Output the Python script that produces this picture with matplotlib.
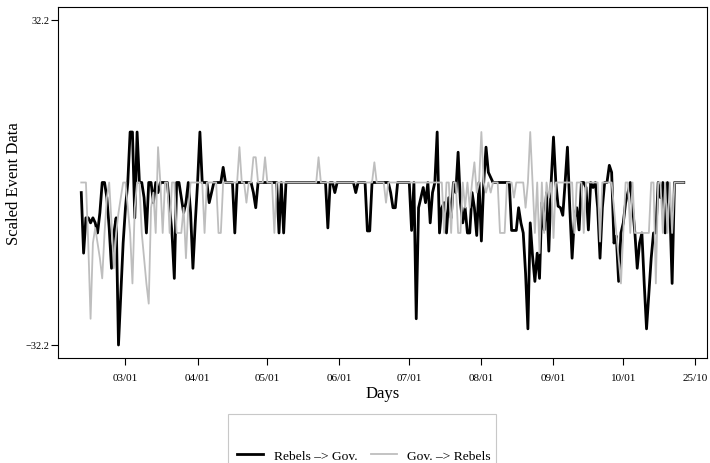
import numpy as np
import matplotlib
matplotlib.use("Agg")
import matplotlib.pyplot as plt
from matplotlib.patches import Rectangle

plt.rcParams['font.family'] = ['Liberation Serif', 'DejaVu Serif']

# daily values, 10 Feb -> 27 Oct
black_feb = [-2, -14, -7, -7, -8, -7, -8, -10, -6, 0, 0, -3, -9, -17, -10, -7, -32.2, -22, -12]
black_mar = [-5, 0, 10, 10, -7, 10, 0, 0, -3, -10, 0, 0, -4, 0, -2, 0, 0, 0, 0, -5,
             -10, -19, 0, 0, -3, -6, -4, 0, -6, -17, -8]
black_apr = [0, 10, 0, 0, 0, -4, -2, 0, 0, 0, 0, 3, 0, 0, 0, 0, -10, 0, 0, 0,
             0, 0, 0, 0, -2, -5, 0, 0, 0, 0]
black_may = [0, 0, 0, 0, 0, -10, 0, -10, 0, 0, 0, 0, 0, 0, 0, 0, 0, 0, 0, 0,
             0, 0, 0, 0, 0, 0, -9, 0, 0, -2, 0]
black_jun = [0, 0, 0, 0, 0, 0, 0, -2, 0, 0, 0, 0, -9.6, -9.6, 0, 0, 0, 0, 0, 0,
             0, 0, -2, -5, -5, 0, 0, 0, 0, 0]
black_jul = [0, -9.5, 0, -27, -5, -3, -1, -4, 0, -8, -2, 0, 10, -10, -5, -4, -10, -3, -7, 0,
             -2, 6, -4, -8, -5, -10, -10, -2, -5, -10.5, 0]
black_aug = [-11.6, 0, 7, 2, 1, 0, 0, 0, 0, 0, 0, 0, 0, -9.5, -9.5, -9.5, -5, -8, -10, -18,
             -29, -8, -14.6, -19.6, -14, -19, -4, -9.4, -2, -13.6, 0]
black_sep = [9, 0, -4.7, -5, -6.5, 0, 7, -5, -15, -7, -5, -9.4, 0, 0, -1, -9.4, 0, -1, 0, -5,
             -15, -5, 0, 0, 3.4, 2, -12, -10.6, -19.6, -10]
black_oct = [-8, -4, -2, 0, -5, -10, -17, -12, -10, -20, -29, -22, -15, -10, -10, 0, -3, 0, -10, 0,
             -5, -20, 0, 0, 0, 0, 0]

gray_feb = [0, 0, 0, -12, -27, -12, -9, -12, -15, -19, -10, -3, 0, -8, -17, -10, -6, -3, 0]
gray_mar = [0, -5, -10, -20, -5, 0, 0, -10, -15, -20, -24, -5, -2, -10, 7, 0, -10, 0, 0, -10,
            0, 0, -10, -10, -10, -5, -15, -5, 0, 0, 0]
gray_apr = [0, 0, 0, -10, 0, 0, 0, 0, 0, -10, -10, 0, 0, 0, 0, 0, 0, 0, 7, 0,
            0, -4, 0, 0, 5, 5, 0, 0, 0, 5]
gray_may = [0, 0, 0, -10, 0, 0, 0, 0, 0, 0, 0, 0, 0, 0, 0, 0, 0, 0, 0, 0,
            0, 0, 5, 0, 0, 0, 0, 0, 0, 0, 0]
gray_jun = [0, 0, 0, 0, 0, 0, 0, 0, 0, 0, 0, 0, 0, 0, 0, 4, 0, 0, 0, 0,
            -4, 0, 0, 0, 0, 0, 0, 0, 0, 0]
gray_jul = [0, 0, 0, 0, 0, 0, 0, 0, 0, 0, 0, 0, 0, 0, 0, -10, 0, 0, -10, 0,
            0, -10, -10, 0, -5, 0, -5, 0, 4, -2, 0]
gray_aug = [10, 0, -2, 0, -2, 0, 0, 0, -10, -10, -10, 0, 0, 0, -3, 0, 0, 0, 0, -5,
            0, 10, 0, -10, 0, -14, 0, -10, 0, -3, 0]
gray_sep = [-11, 0, 0, 0, 0, 0, 0, 0, 0, -10, 0, 0, 0, -10, 0, 0, 0, 0, 0, 0,
            -11.7, 0, 0, 0, 0, 0, -5, -10, -15, -20]
gray_oct = [-10, 0, 0, -10, 0, -10, -10, -10, -10, -10, -10, -10, 0, 0, -20, 0, 0, -10, 0, -10,
            0, -10, 0, 0, 0, 0, 0]

rebels_gov = (black_feb + black_mar + black_apr + black_may + black_jun
              + black_jul + black_aug + black_sep + black_oct)
gov_rebels = (gray_feb + gray_mar + gray_apr + gray_may + gray_jun
              + gray_jul + gray_aug + gray_sep + gray_oct)
days = np.arange(np.datetime64('2001-02-10'), np.datetime64('2001-10-28'))

tick_dates = np.array(['2001-03-01', '2001-04-01', '2001-05-01', '2001-06-01', '2001-07-01',
                       '2001-08-01', '2001-09-01', '2001-10-01', '2001-11-01'], dtype='datetime64[D]')
tick_labels = ['03/01', '04/01', '05/01', '06/01', '07/01', '08/01', '09/01', '10/01', '25/10']
y_lim = 32.2

fig = plt.figure(figsize=(7.1, 4.64), dpi=100)
ax = fig.add_axes([0.0817, 0.2263, 0.9141, 0.7565])

l1, = ax.plot(days, rebels_gov, color='black', lw=2.0, label='Rebels \u2013> Gov.')
l2, = ax.plot(days, gov_rebels, color='#bebebe', lw=1.3, label='Gov. \u2013> Rebels')

# R-style 4% padding around the data range
span = (days[-1] - days[0]) * 0.04
ax.set_xlim(days[0] - span, days[-1] + span)
ax.set_ylim(-y_lim * 1.08, y_lim * 1.08)
ax.set_yticks([-y_lim, y_lim])
ax.set_yticklabels(['\u221232.2', '32.2'])
ax.set_xticks(tick_dates)
ax.set_xticklabels(tick_labels)
ax.tick_params(axis='y', labelsize=7.5, length=5, width=0.8, pad=1)
ax.tick_params(axis='x', labelsize=8, length=5, width=0.8, pad=6)
for s in ax.spines.values():
    s.set_linewidth(0.8)

ax.set_xlabel('Days', fontsize=12, labelpad=2)
ax.set_ylabel('Scaled Event Data', fontsize=12, labelpad=3)

fig.patches.append(Rectangle((0.321, -0.05), 0.378, 0.156, transform=fig.transFigure,
                             fill=False, edgecolor='#c8c8c8', lw=0.8))
fig.legend(handles=[l1, l2], loc='center', bbox_to_anchor=(0.513, 0.016), ncol=2,
           frameon=False, fontsize=9.7, handlelength=1.9, handletextpad=0.8,
           columnspacing=1.0)

fig.savefig('out.png', dpi=100)
